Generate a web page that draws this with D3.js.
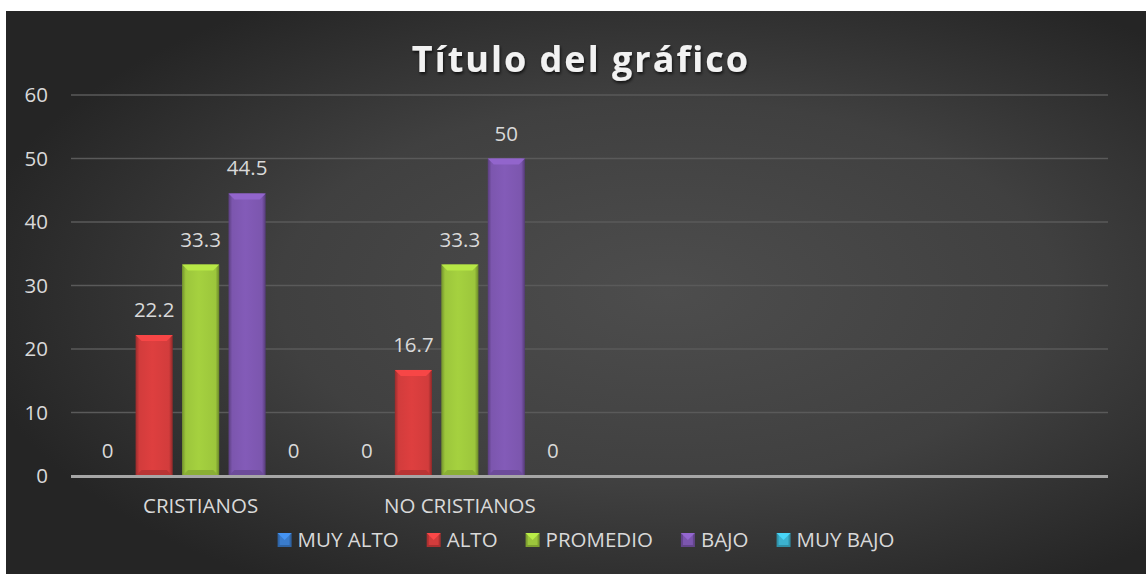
<!DOCTYPE html>
<html lang="es">
<head>
  <meta charset="UTF-8">
  <title>Título del gráfico</title>
  <style>
    body { margin: 0; background: #fff; overflow: hidden; }
    svg { display: block; font-family: "Open Sans", "Noto Sans", sans-serif; }
    .lbl { fill: #d9d9d9; font-size: 20.5px; }
  </style>
</head>
<body>
  <svg width="1146" height="574"></svg>

  <script src="https://d3js.org/d3.v7.min.js"></script>
  <script>
    // data
    const categories = ["CRISTIANOS", "NO CRISTIANOS", "", ""];
    const seriesNames = ["MUY ALTO", "ALTO", "PROMEDIO", "BAJO", "MUY BAJO"];
    const muyAlto = [0, 0];
    const alto = [22.2, 16.7];
    const promedio = [33.3, 33.3];
    const bajo = [44.5, 50];
    const muyBajo = [0, 0];
    const yTicks = [0, 10, 20, 30, 40, 50, 60];
    const seriesColors = ["#3a7ccc", "#d23c3c", "#9cc63c", "#7c56ae", "#3cb2cf"];

    const seriesValues = [muyAlto, alto, promedio, bajo, muyBajo];

    const svg = d3.select("svg");
    const defs = svg.append("defs");

    // background
    const bg = defs.append("radialGradient").attr("id", "bg")
      .attr("cx", "58%").attr("cy", "50%").attr("r", "62%");
    bg.append("stop").attr("offset", "0%").attr("stop-color", "#4d4d4d");
    bg.append("stop").attr("offset", "55%").attr("stop-color", "#404040");
    bg.append("stop").attr("offset", "100%").attr("stop-color", "#252525");

    svg.append("rect")
      .attr("x", 6).attr("y", 11)
      .attr("width", 1140).attr("height", 563)
      .attr("fill", "url(#bg)");

    const shadow = defs.append("filter").attr("id", "shadow")
      .attr("x", "-10%").attr("y", "-30%").attr("width", "120%").attr("height", "160%");
    shadow.append("feDropShadow")
      .attr("dx", 1).attr("dy", 2).attr("stdDeviation", 1.5)
      .attr("flood-color", "#000").attr("flood-opacity", 0.7);

    // per-series bar gradients (bevel look)
    seriesColors.forEach((c, i) => {
      const base = d3.color(c);
      const g = defs.append("linearGradient").attr("id", "bar" + i)
        .attr("x1", "0%").attr("x2", "100%").attr("y1", "0%").attr("y2", "0%");
      g.append("stop").attr("offset", "0%").attr("stop-color", base.darker(0.9));
      g.append("stop").attr("offset", "10%").attr("stop-color", base);
      g.append("stop").attr("offset", "45%").attr("stop-color", base.brighter(0.15));
      g.append("stop").attr("offset", "90%").attr("stop-color", base);
      g.append("stop").attr("offset", "100%").attr("stop-color", base.darker(1.1));
    });

    // scales
    const x0 = d3.scaleBand()
      .domain(d3.range(categories.length))
      .range([71, 1108]);

    const x1 = d3.scaleBand()
      .domain(d3.range(seriesNames.length))
      .range([0, x0.bandwidth()])
      .paddingInner(0.2)
      .paddingOuter(0.39);

    const y = d3.scaleLinear().domain([0, 60]).range([476, 95]);

    // grid
    svg.append("g")
      .selectAll("line")
      .data(yTicks.filter(t => t > 0))
      .join("line")
      .attr("x1", 71).attr("x2", 1108)
      .attr("y1", d => y(d)).attr("y2", d => y(d))
      .attr("stroke", "#5a5a5a").attr("stroke-width", 1.3);

    // y tick labels
    svg.append("g")
      .selectAll("text")
      .data(yTicks)
      .join("text")
      .attr("class", "lbl")
      .attr("x", 48).attr("y", d => y(d))
      .attr("dy", "0.35em")
      .attr("text-anchor", "end")
      .text(d => d);

    // bars
    const bars = [];
    categories.forEach((cat, ci) => {
      seriesValues.forEach((vals, si) => {
        if (ci < vals.length) bars.push({ ci, si, v: vals[ci] });
      });
    });

    const barG = svg.append("g");
    const bw = x1.bandwidth();
    bars.forEach(d => {
      const bx = x0(d.ci) + x1(d.si);
      const by = y(d.v);
      const h = y(0) - by;
      const c = d3.color(seriesColors[d.si]);
      if (h > 0) {
        barG.append("rect")
          .attr("x", bx).attr("y", by)
          .attr("width", bw).attr("height", h)
          .attr("fill", `url(#bar${d.si})`);
        const bev = Math.min(6, h / 2);
        barG.append("polygon")
          .attr("points", [[bx, by], [bx + bw, by], [bx + bw - bev, by + bev], [bx + bev, by + bev]].join(" "))
          .attr("fill", c.brighter(0.45));
        barG.append("polygon")
          .attr("points", [[bx, y(0)], [bx + bw, y(0)], [bx + bw - bev, y(0) - bev], [bx + bev, y(0) - bev]].join(" "))
          .attr("fill", c.darker(0.35));
      }
      barG.append("text")
        .attr("class", "lbl")
        .attr("x", bx + bw / 2)
        .attr("y", by - 18)
        .attr("text-anchor", "middle")
        .text(d.v);
    });

    // axis line
    svg.append("line")
      .attr("x1", 71).attr("x2", 1108)
      .attr("y1", y(0) + 0.5).attr("y2", y(0) + 0.5)
      .attr("stroke", "#a6a6a6").attr("stroke-width", 3);

    // category labels
    svg.append("g")
      .selectAll("text")
      .data(categories)
      .join("text")
      .attr("class", "lbl")
      .attr("x", (d, i) => x0(i) + x0.bandwidth() / 2)
      .attr("y", 513)
      .attr("text-anchor", "middle")
      .text(d => d);

    // title
    svg.append("text")
      .attr("x", 581).attr("y", 72)
      .attr("text-anchor", "middle")
      .attr("fill", "#f2f2f2")
      .attr("font-size", 36)
      .attr("font-weight", "bold")
      .attr("letter-spacing", 2)
      .attr("filter", "url(#shadow)")
      .text("Título del gráfico");

    // legend
    const legend = svg.append("g");
    const items = [];
    let cx = 0;
    seriesNames.forEach((name, i) => {
      const g = legend.append("g");
      const c = d3.color(seriesColors[i]);
      g.append("rect").attr("x", 0).attr("y", -14).attr("width", 14).attr("height", 14)
        .attr("fill", c.darker(0.6));
      g.append("rect").attr("x", 2).attr("y", -12).attr("width", 10).attr("height", 10)
        .attr("fill", c);
      g.append("polygon").attr("points", "0,-14 14,-14 7,-7").attr("fill", c.brighter(0.5));
      const t = g.append("text").attr("class", "lbl")
        .attr("x", 20).attr("y", 0).text(name);
      const w = 20 + t.node().getComputedTextLength();
      items.push({ g, x: cx });
      cx += w + 28;
    });
    const total = cx - 28;
    const start = 586 - total / 2;
    items.forEach(it => it.g.attr("transform", `translate(${start + it.x},547)`));
  </script>
</body>
</html>
